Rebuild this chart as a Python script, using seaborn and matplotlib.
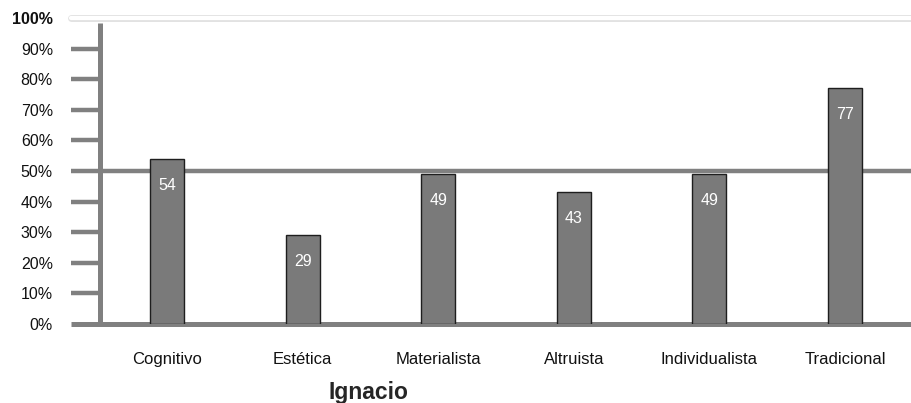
import matplotlib
matplotlib.use("Agg")
import matplotlib.pyplot as plt
import seaborn as sns
import pandas as pd

categories = ["Cognitivo", "Estética", "Materialista", "Altruista", "Individualista", "Tradicional"]
values = [54, 29, 49, 43, 49, 77]
y_ticks = [0, 10, 20, 30, 40, 50, 60, 70, 80, 90, 100]
y_tick_labels = ["0%", "10%", "20%", "30%", "40%", "50%", "60%", "70%", "80%", "90%", "100%"]
title = "Ignacio"

sns.set_theme(style="white")
plt.rcParams["font.family"] = ["Liberation Sans", "DejaVu Sans"]

W, H = 911, 403
fig = plt.figure(figsize=(W / 100, H / 100), dpi=100)
ax_left, ax_right = 71, 911
ax_top, ax_bottom = 18, 324
ax = fig.add_axes([ax_left / W, 1 - ax_bottom / H, (ax_right - ax_left) / W, (ax_bottom - ax_top) / H])

df = pd.DataFrame({"categoria": categories, "valor": values})
sns.barplot(data=df, x="categoria", y="valor", color="#7a7a7a", saturation=1,
            width=0.25, edgecolor="#1e1e1e", linewidth=1.0, ax=ax, zorder=3)

# horizontal scale: first bar center at px 167, spacing ~135.6 px
step = 135.6
x0 = 167
ax.set_xlim((ax_left - x0) / step, (ax_right - x0) / step)
ax.set_ylim(0, 100)

grey = "#808080"
tick_frac = (100 - ax_left) / (ax_right - ax_left)
for t in y_ticks[1:-1]:
    if t == 50:
        ax.axhline(t, color=grey, lw=3.2, zorder=1, solid_capstyle="butt")
    else:
        ax.axhline(t, xmin=0, xmax=tick_frac, color=grey, lw=3.2, zorder=1, solid_capstyle="butt")
ax.axhline(0, color=grey, lw=3.6, zorder=1, solid_capstyle="butt", clip_on=False)
# faint frame line at the top of the scale
ax.axhline(100, color="#e2e2e2", lw=5, zorder=1, clip_on=False)
ax.axhline(100, color="white", lw=3, zorder=1, clip_on=False)
# vertical axis line
xv = (100 - x0) / step
ax.plot([xv, xv], [0, 98.5], color=grey, lw=3.6, zorder=1, solid_capstyle="butt", clip_on=False)

for i, v in enumerate(values):
    ax.annotate(str(v), xy=(i, v), xytext=(0, -19), textcoords="offset points",
                ha="center", va="center", color="white", fontsize=11.5, zorder=4)

for s in ax.spines.values():
    s.set_visible(False)
ax.set_xlabel("")
ax.set_ylabel("")
ax.set_yticks(y_ticks)
ax.set_yticklabels(y_tick_labels, fontsize=11.5, color="#111111")
ax.get_yticklabels()[-1].set_fontweight("bold")
ax.tick_params(axis="y", length=0, pad=13)
ax.set_xticks(range(len(categories)))
ax.set_xticklabels(categories, fontsize=12, color="#111111")
ax.tick_params(axis="x", length=0, pad=20)
ax.grid(False)

fig.text(368 / W, 1 - 392 / H, title, ha="center", va="center", fontsize=16.5, fontweight="bold")

fig.savefig("out.png", dpi=100)
